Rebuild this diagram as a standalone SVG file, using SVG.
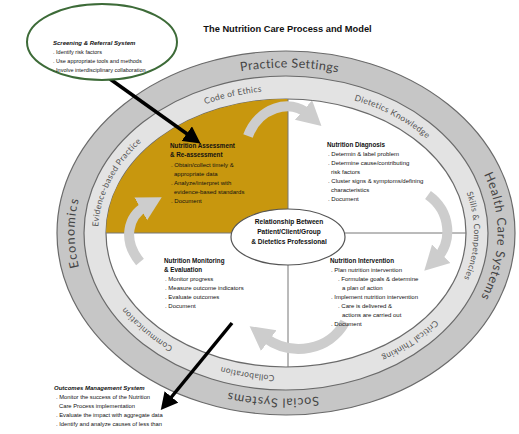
<svg xmlns="http://www.w3.org/2000/svg" width="519" height="434" viewBox="0 0 519 434">
<style>
.t{font-family:"Liberation Sans",Arial,sans-serif;fill:#111}
.title{font-size:9.3px;font-weight:bold}
.h{font-size:6.3px;font-weight:bold}
.b{font-size:6px}
.hi{font-size:6px;font-weight:bold;font-style:italic}
.s{font-size:5.5px}
.ring1{font-family:Lato,"Open Sans",sans-serif;font-size:12.5px;fill:#444;letter-spacing:0.8px}
.ring2{font-family:Lato,"Open Sans",sans-serif;font-size:8.5px;fill:#555;letter-spacing:0.3px}
.band{stroke:#6a6a6a;stroke-width:1.2}
.cyc{fill:none;stroke:#cdcdcd;stroke-width:10;marker-end:url(#gh)}
.blk{fill:none;stroke:#000;stroke-width:3.5;marker-end:url(#bh)}
</style>
<defs>
<marker id="gh" markerUnits="userSpaceOnUse" markerWidth="28" markerHeight="28" viewBox="0 0 28 28" refX="6" refY="14" orient="auto"><path d="M0,1 L24,14 L0,27 z" fill="#cdcdcd"/></marker>
<marker id="bh" markerUnits="userSpaceOnUse" markerWidth="18" markerHeight="18" viewBox="0 0 18 18" refX="4" refY="9" orient="auto"><path d="M0,0 L17,9 L0,18 z" fill="#000"/></marker>
<path id="oB" d="M286,398.5 A211.5 165.5 0 1 1 286,67.5 A211.5 165.5 0 1 1 286,398.5"/>
<path id="oT" d="M286,67.5 A211.5 165.5 0 1 1 286,398.5 A211.5 165.5 0 1 1 286,67.5"/>
<path id="mB" d="M286,375.5 A188 142.5 0 1 1 286,90.5 A188 142.5 0 1 1 286,375.5"/>
</defs>
<rect width="519" height="434" fill="#fff"/>
<text class="t title" x="287.5" y="32" text-anchor="middle">The Nutrition Care Process and Model</text>

<g id="rings">
<ellipse class="band" cx="286" cy="233" rx="229" ry="182" fill="#c6c6c6"/>
<ellipse class="band" cx="286" cy="233" rx="202" ry="157" fill="#e3e3e3"/>
<ellipse class="band" cx="286" cy="233" rx="180" ry="134" fill="#fff"/>
<path id="gold" d="M288,233 H106 A180 134 0 0 1 288,99 Z" fill="#c8970e"/>
<line x1="288" y1="99" x2="288" y2="367" stroke="#777" stroke-width="1"/>
<line x1="106" y1="233" x2="466" y2="233" stroke="#777" stroke-width="1"/>
</g>

<g id="ring-labels">
<text class="ring1" style="letter-spacing:1.2px"><textPath href="#oB" startOffset="25%" text-anchor="middle">Economics</textPath></text>
<text class="ring1" style="letter-spacing:0.4px"><textPath href="#oB" startOffset="50.3%" text-anchor="middle">Practice Settings</textPath></text>
<text class="ring1"><textPath href="#oB" startOffset="75.3%" text-anchor="middle">Health Care Systems</textPath></text>
<text class="ring1"><textPath href="#oT" startOffset="51.1%" text-anchor="middle">Social Systems</textPath></text>
<text class="ring2"><textPath href="#mB" startOffset="3.7%" text-anchor="middle">Collaboration</textPath></text>
<text class="ring2"><textPath href="#mB" startOffset="14.3%" text-anchor="middle">Communication</textPath></text>
<text class="ring2"><textPath href="#mB" startOffset="30.3%" text-anchor="middle">Evidence-based Practice</textPath></text>
<text class="ring2"><textPath href="#mB" startOffset="44.9%" text-anchor="middle">Code of Ethics</textPath></text>
<text class="ring2"><textPath href="#mB" startOffset="60.6%" text-anchor="middle">Dietetics Knowledge</textPath></text>
<text class="ring2"><textPath href="#mB" startOffset="75.3%" text-anchor="middle">Skills &amp; Competencies</textPath></text>
<text class="ring2"><textPath href="#mB" startOffset="87.5%" text-anchor="middle">Critical Thinking</textPath></text>
</g>

<g id="connectors">
<path class="cyc" d="M248,136 C258,108 290,98 308,114"/>
<path class="cyc" d="M428,195 C452,212 452,243 437,258"/>
<path class="cyc" d="M345,322 C330,350 292,358 264,337"/>
<path class="cyc" d="M140,262 C122,240 128,216 146,206"/>
<line class="blk" x1="110" y1="79" x2="190" y2="136"/>
<line class="blk" x1="232" y1="323" x2="169" y2="400"/>
</g>

<g id="assessment">
<text class="t h" x="170" y="148">Nutrition Assessment</text>
<text class="t h" x="170" y="157">&amp; Re-assessment</text>
<text class="t b" x="171" y="167">. Obtain/collect timely &amp;</text>
<text class="t b" x="174" y="176">appropriate data</text>
<text class="t b" x="171" y="185">. Analyze/interpret with</text>
<text class="t b" x="174" y="194">evidence-based standards</text>
<text class="t b" x="171" y="203">. Document</text>
</g>

<g id="diagnosis">
<text class="t h" x="327" y="147">Nutrition Diagnosis</text>
<text class="t b" x="328" y="156">. Determin &amp; label problem</text>
<text class="t b" x="328" y="165">. Determine cause/contributing</text>
<text class="t b" x="331" y="174">risk factors</text>
<text class="t b" x="328" y="183">. Cluster signs &amp; symptoms/defining</text>
<text class="t b" x="331" y="192">characteristics</text>
<text class="t b" x="328" y="201">. Document</text>
</g>

<g id="intervention">
<text class="t h" x="330" y="263">Nutrition Intervention</text>
<text class="t b" x="331" y="272">. Plan nutrition intervention</text>
<text class="t b" x="338" y="281">. Formulate goals &amp; determine</text>
<text class="t b" x="342" y="290">a plan of action</text>
<text class="t b" x="331" y="299">. Implement nutrition intervention</text>
<text class="t b" x="338" y="308">. Care is delivered &amp;</text>
<text class="t b" x="342" y="317">actions are carried out</text>
<text class="t b" x="331" y="326">. Document</text>
</g>

<g id="monitoring">
<text class="t h" x="164" y="263">Nutrition Monitoring</text>
<text class="t h" x="164" y="272">&amp; Evaluation</text>
<text class="t b" x="165" y="281">. Monitor progress</text>
<text class="t b" x="165" y="290">. Measure outcome indicators</text>
<text class="t b" x="165" y="299">. Evaluate outcomes</text>
<text class="t b" x="165" y="308">. Document</text>
</g>

<g id="relationship">
<ellipse cx="288" cy="237" rx="57" ry="28" fill="#fff" stroke="#555" stroke-width="1.2"/>
<text class="t h" x="289" y="224" text-anchor="middle" style="font-size:6.6px">Relationship Between</text>
<text class="t h" x="289" y="234" text-anchor="middle" style="font-size:6.6px">Patient/Client/Group</text>
<text class="t h" x="289" y="244" text-anchor="middle" style="font-size:6.6px">&amp; Dietetics Professional</text>
</g>

<g id="screening">
<ellipse cx="102" cy="42" rx="75" ry="38" fill="#fff" stroke="#3d6b38" stroke-width="2"/>
<text class="t hi" x="53" y="45">Screening &amp; Referral System</text>
<text class="t s" x="53" y="54">. Identify risk factors</text>
<text class="t s" x="53" y="63">. Use appropriate tools and methods</text>
<text class="t s" x="53" y="72">. Involve interdisciplinary collaboration</text>
</g>

<g id="outcomes">
<text class="t hi" x="54" y="390">Outcomes Management System</text>
<text class="t s" x="56" y="399" style="font-size:5.8px">. Monitor the success of the Nutrition</text>
<text class="t s" x="59" y="408" style="font-size:5.8px">Care Process implementation</text>
<text class="t s" x="56" y="417" style="font-size:5.8px">. Evaluate the impact with aggregate data</text>
<text class="t s" x="56" y="426" style="font-size:5.8px">. Identify and analyze causes of less than</text>
</g>
</svg>
